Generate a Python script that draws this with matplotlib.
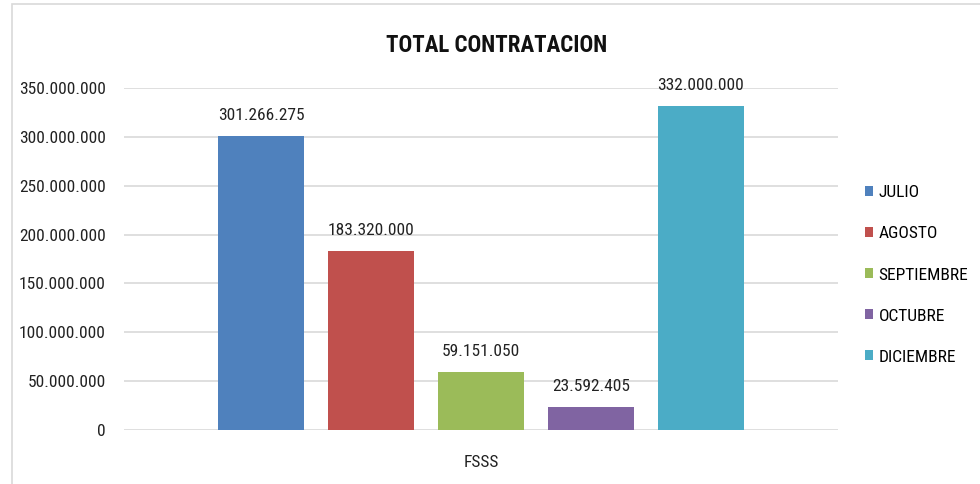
import matplotlib.pyplot as plt
from matplotlib import font_manager
from matplotlib.patches import Rectangle
from matplotlib.ticker import FuncFormatter

categoria = 'FSSS'
meses = ['JULIO', 'AGOSTO', 'SEPTIEMBRE', 'OCTUBRE', 'DICIEMBRE']
valores = [301266275, 183320000, 59151050, 23592405, 332000000]
colores = ['#4F81BD', '#C0504D', '#9BBB59', '#8064A2', '#4BACC6']

# fuente estrecha parecida a Calibri
nombres = {f.name for f in font_manager.fontManager.ttflist}
fuente = 'DejaVu Sans'
for cand in ['Roboto Condensed', 'Liberation Sans Narrow']:
    if cand in nombres:
        fuente = cand
        break
plt.rcParams['font.family'] = [fuente, 'DejaVu Sans']


def miles(v):
    return f"{int(round(v)):,}".replace(',', '.')


fig = plt.figure(figsize=(9.8, 4.84), dpi=100)
fig.patches.append(Rectangle((12 / 980, -0.1), 1.2, 1.1 - 4 / 484,
                             transform=fig.transFigure, fill=False,
                             edgecolor='#d9d9d9', linewidth=1.2))

ax = fig.add_axes([124 / 980, 1 - 430 / 484, 714 / 980, 342 / 484])

paso = 110 / 714
ancho = 86 / 714
for i, (mes, val, col) in enumerate(zip(meses, valores, colores)):
    x = (i - 2) * paso
    ax.bar(x, val, width=ancho, color=col, label=mes, zorder=3)
    ax.text(x, val + 13e6, miles(val), ha='center', va='bottom',
            fontsize=12.5, color='#222222')

ax.set_xlim(-0.5, 0.5)
ax.set_ylim(0, 350000000)
ax.set_yticks(range(0, 350000001, 50000000))
ax.yaxis.set_major_formatter(FuncFormatter(lambda v, p: miles(v)))
ax.set_xticks([0])
ax.set_xticklabels([categoria])
ax.tick_params(axis='both', length=0, labelsize=12.5, colors='#222222')
ax.tick_params(axis='y', pad=13)
ax.tick_params(axis='x', pad=18)
ax.grid(axis='y', color='#d9d9d9', linewidth=1.2, zorder=0)
for s in ax.spines.values():
    s.set_visible(False)

fig.text(497 / 980, 1 - 45 / 484, 'TOTAL CONTRATACION', ha='center',
         va='center', fontsize=16.5, fontweight='bold', color='#111111')

handles, labels = ax.get_legend_handles_labels()
fig.legend(handles, labels, loc='center left',
           bbox_to_anchor=(849 / 980, 1 - 275 / 484), frameon=False,
           fontsize=12.5, handlelength=0.5, handleheight=0.5,
           handletextpad=0.3, labelspacing=1.5)

fig.savefig('out.png', dpi=100)
